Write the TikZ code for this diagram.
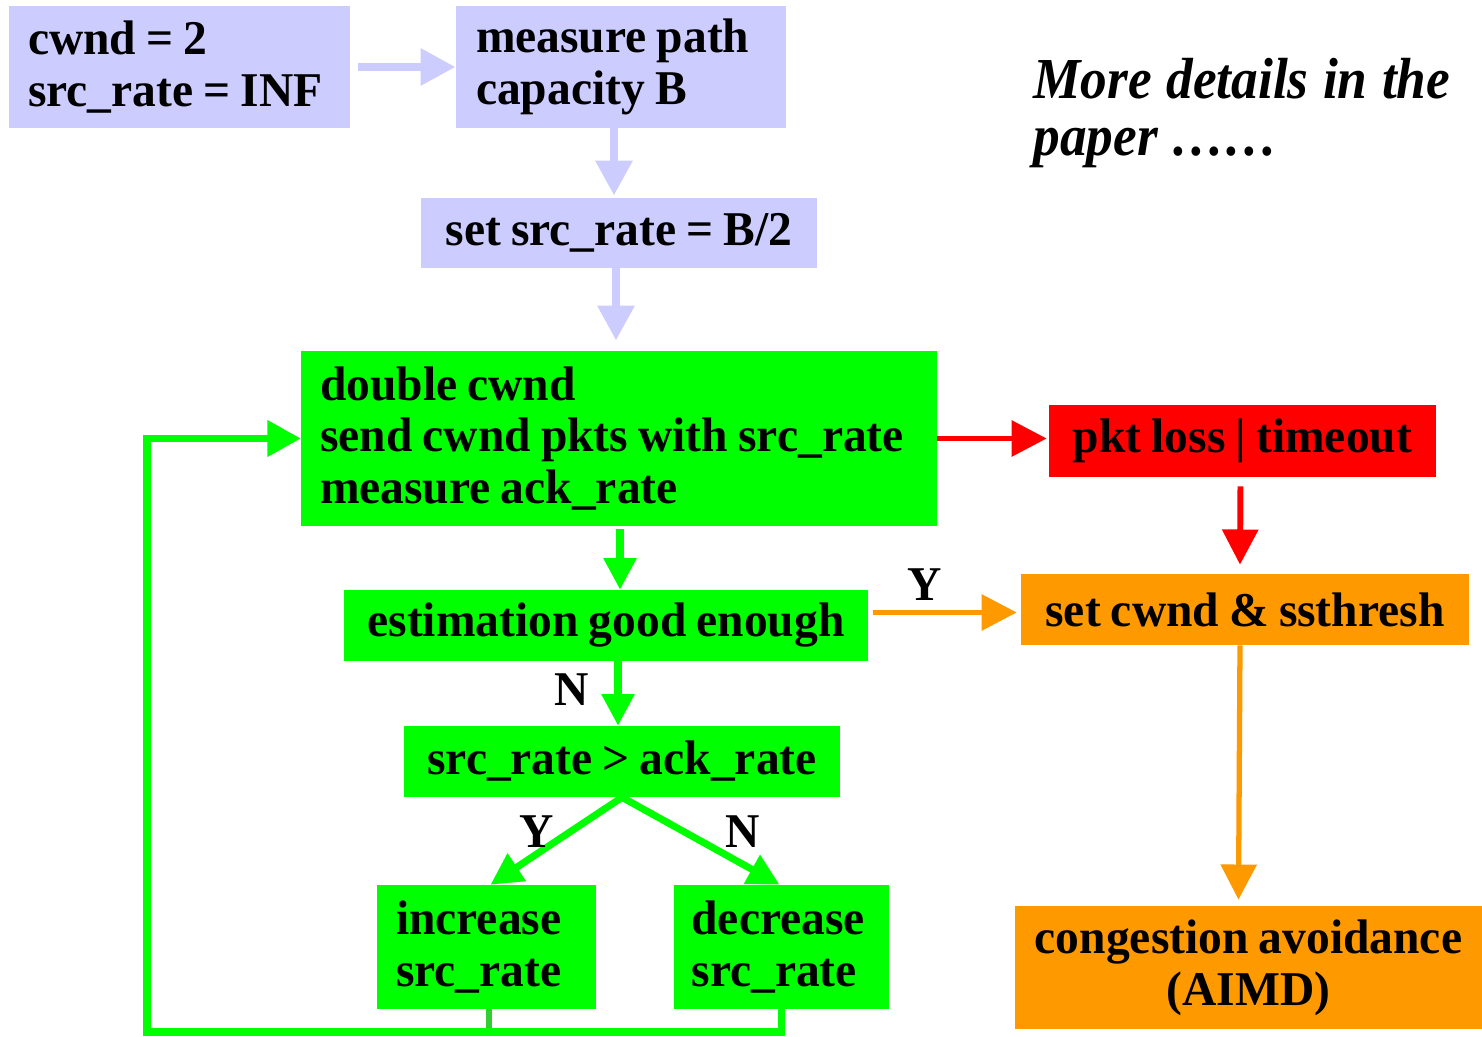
\documentclass[tikz,border=0pt]{standalone}
\usepackage{fontspec}
\setmainfont[FakeStretch=0.98,WordSpace=0.85]{Liberation Serif}
\newfontfamily\itfont[FakeStretch=0.92]{Liberation Serif}
\usetikzlibrary{arrows.meta,calc}
\definecolor{lav}{HTML}{CCCCFF}
\definecolor{grn}{HTML}{00FF00}
\definecolor{rd}{HTML}{FF0000}
\definecolor{org}{HTML}{FF9900}
\definecolor{stubc}{HTML}{33CC33}
\newcommand{\tightsp}{\spaceskip=0.21em\relax}
\begin{document}
\begin{tikzpicture}[x=0.02cm,y=-0.02cm,
  txt/.style={font=\bfseries\fontsize{27.6}{29.5}\selectfont},
  box/.style={txt, rectangle, inner sep=0pt, align=center},
  lbox/.style={txt, rectangle, inner sep=0pt, align=left, text width=#1},
  lavarr/.style={draw=lav, line width=5pt, -{Triangle[length=20pt,width=20pt]}},
  garr/.style={draw=grn, line width=4pt, -{Triangle[length=18pt,width=18pt]}},
  rarr/.style={draw=rd, line width=3.4pt, -{Triangle[length=20pt,width=20pt]}},
  oarr/.style={draw=org, line width=3.4pt, -{Triangle[length=20pt,width=20pt]}},
  gloop/.style={draw=grn, line width=4pt, -{Triangle[length=19pt,width=20pt]}},
  stub/.style={draw=stubc, line width=3pt},
  lbl/.style={txt, inner sep=0pt}
]
\useasboundingbox (0,0) rectangle (1482,1037);

% nodes
\node[lbox=6.06cm, fill=lav, minimum width=6.82cm, minimum height=2.44cm] (b1) at (179.5,67) {\tightsp cwnd = 2\\src\_rate = INF};
\node[lbox=5.8cm, fill=lav, minimum width=6.6cm, minimum height=2.44cm] (b2) at (621,67) {\tightsp measure path\\capacity B};
\node[box, fill=lav, minimum width=7.92cm, minimum height=1.4cm] (b3) at (619,233) {set src\_rate = B/2};
\node[lbox=11.96cm, fill=grn, minimum width=12.72cm, minimum height=3.5cm] (b4) at (619,438.5) {\tightsp double cwnd\\send cwnd pkts with src\_rate\\measure ack\_rate};
\node[box, fill=rd, minimum width=7.74cm, minimum height=1.44cm] (loss) at (1242.5,441) {pkt loss | timeout};
\node[box, fill=org, minimum width=8.96cm, minimum height=1.42cm] (set) at (1245,609.5) {set cwnd \& ssthresh};
\node[box, fill=grn, minimum width=10.48cm, minimum height=1.42cm] (est) at (606,625.5) {estimation good enough};
\node[box, fill=grn, minimum width=8.72cm, minimum height=1.42cm] (cmp) at (622,761.5) {src\_rate > ack\_rate};
\node[lbox=3.62cm, fill=grn, minimum width=4.38cm, minimum height=2.48cm] (inc) at (486.5,947) {increase\\src\_rate};
\node[lbox=3.6cm, fill=grn, minimum width=4.3cm, minimum height=2.48cm] (dec) at (781.5,947) {decrease\\src\_rate};
\node[box, fill=org, minimum width=9.34cm, minimum height=2.46cm] (ca) at (1248.5,967.5) {congestion avoidance\\(AIMD)};
\node[anchor=north west, inner sep=0pt, align=left, font=\itfont\bfseries\itshape\fontsize{33}{32.5}\selectfont] (more) at (1033,58) {\spaceskip=0.25em\relax More details in the\\paper ……};

% connectors
\draw[lavarr, shorten <=4.5pt] (b1.east |- b1.center) -- (b2.west);
\draw[lavarr] ($(b2.south)+(-7,0)$) -- ($(b3.north)+(-5,-2)$);
\draw[lavarr] ($(b3.south)+(-3,0)$) -- ($(b4.north)+(-3,-10)$);
\draw[rarr] (b4.east) -- ($(b4.east -| loss.west)+(-2,0)$);
\draw[rarr] ($(loss.south)+(-2,9)$) -- ($(set.north)+(-5,-9)$);
\draw[garr] ($(b4.south)+(1,3)$) -- ($(b4.south |- est.north)+(1,0)$);
\draw[oarr] ($(est.east |- set.west)+(5,3)$) -- ($(set.west)+(-4,3)$);
\draw[garr] ($(cmp.north |- est.south)+(-4,0)$) -- ($(cmp.north)+(-4,0)$);
\draw[garr] (cmp.south) -- ($(inc.north)+(4,0)$);
\draw[garr] (cmp.south) -- ($(dec.north)+(-2,0)$);
\draw[oarr, line width=3pt] ($(set.south)+(-5,0)$) -- ($(ca.north)+(-10,-6)$);
\coordinate (lp) at (147,1032);
\draw[gloop] (dec.south) |- (lp) |- (b4.west);
\draw[stub] ($(inc.south)+(2.5,0)$) -- ++(0,19);

% labels
\node[lbl] (ly1) at (925,585) {Y};
\node[lbl] (ln1) at (572,690) {N};
\node[lbl] (ly2) at (537,832) {Y};
\node[lbl] (ln2) at (743,832) {N};
\end{tikzpicture}
\end{document}
